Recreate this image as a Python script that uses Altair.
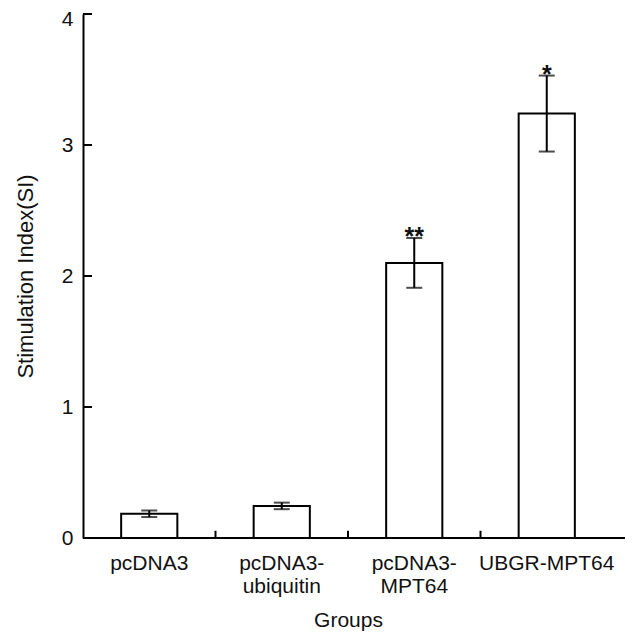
import altair as alt
import pandas as pd

groups = ["pcDNA3", "pcDNA3-ubiquitin", "pcDNA3-MPT64", "UBGR-MPT64"]
means = [0.185, 0.245, 2.10, 3.24]
errors = [0.025, 0.025, 0.19, 0.29]
stars = ["", "", "**", "*"]
y_ticks = [0, 1, 2, 3, 4]

df = pd.DataFrame({"group": groups, "mean": means, "err": errors, "star": stars})
df["lo"] = df["mean"] - df["err"]
df["hi"] = df["mean"] + df["err"]

FONT = "Liberation Sans"
FS = 21
W, H = 542, 524

xscale = alt.Scale(domain=groups, paddingInner=0, paddingOuter=0, range=[0, 530])
yscale = alt.Scale(domain=[0, 4], nice=False)

x_axis = alt.Axis(
    domain=False,
    labelExpr="indexof(datum.label, 'pcDNA3-') == 0 ? ['pcDNA3-', substring(datum.label, 7)] : datum.label",
)
y_axis = alt.Axis(
    values=y_ticks,
    format="d",
    labelOffset={"condition": {"test": "datum.value == 4", "value": 5}, "value": 0},
)

X_TITLE = "Groups"
Y_TITLE = "Stimulation Index(SI)"


def xn(**kw):
    return alt.X("group:N", scale=xscale, sort=groups, axis=x_axis, title=X_TITLE, **kw)


def yq(field):
    return alt.Y(field, scale=yscale, axis=y_axis, title=Y_TITLE)


bars = alt.Chart(df).mark_bar(
    fill="white", stroke="black", strokeWidth=2, width=alt.RelativeBandSize(0.424)
).encode(x=xn(), y=yq("mean:Q"))

err_rule = alt.Chart(df).mark_rule(color="black", strokeWidth=2).encode(
    x=xn(), y=yq("lo:Q"), y2="hi:Q"
)

caps_hi = alt.Chart(df).mark_tick(color="black", thickness=2, size=16).encode(
    x=xn(), y=yq("hi:Q")
)
caps_lo = alt.Chart(df).mark_tick(color="black", thickness=2, size=16).encode(
    x=xn(), y=yq("lo:Q")
)

star_text = alt.Chart(df).mark_text(
    font=FONT, fontSize=25, fontWeight="bold", baseline="alphabetic", dy=7, color="#111"
).encode(x=xn(), y=yq("hi:Q"), text="star:N")

# x-axis base line across the whole plot width
base_df = pd.DataFrame({"v": [0.0]})
base_rule = alt.Chart(base_df).mark_rule(color="black", strokeWidth=2).encode(
    y=yq("v:Q"), x=alt.value(0), x2=alt.value(W)
)

# inward ticks on the y axis
ytick_df = pd.DataFrame({"v": y_ticks})
ytick_rules = alt.Chart(ytick_df).mark_rule(color="black", strokeWidth=2).encode(
    y=yq("v:Q"), x=alt.value(0), x2=alt.value(9)
)

# inward ticks on the x axis, at band boundaries
xtick_df = pd.DataFrame({"group": groups[1:], "y0": [0.0] * 3, "y1": [0.055] * 3})
xtick_rules = alt.Chart(xtick_df).mark_rule(color="black", strokeWidth=2).encode(
    x=xn(bandPosition=0), y=yq("y0:Q"), y2="y1:Q"
)

chart = alt.layer(
    bars, err_rule, caps_hi, caps_lo, star_text, base_rule, ytick_rules, xtick_rules
).properties(
    width=W,
    height=H,
    autosize=alt.AutoSizeParams(type="none"),
    padding={"left": 75, "top": 6, "right": 3, "bottom": 95},
).configure(
    background="white",
    view=alt.ViewConfig(stroke=None),
    axis=alt.AxisConfig(
        ticks=False,
        grid=False,
        labelFont=FONT,
        labelFontSize=FS,
        labelColor="#111",
        titleFont=FONT,
        titleFontSize=FS,
        titleFontWeight="normal",
        titleColor="#111",
        domainColor="#000",
        domainWidth=2,
    ),
    axisX=alt.AxisConfig(
        labelAngle=0,
        labelPadding=14,
        labelLineHeight=23,
        titlePadding=13,
    ),
    axisY=alt.AxisConfig(
        labelPadding=10,
        titlePadding=24,
        titleFontSize=22,
    ),
)

chart.save("out.html", embed_options={"renderer": "svg", "actions": False})
